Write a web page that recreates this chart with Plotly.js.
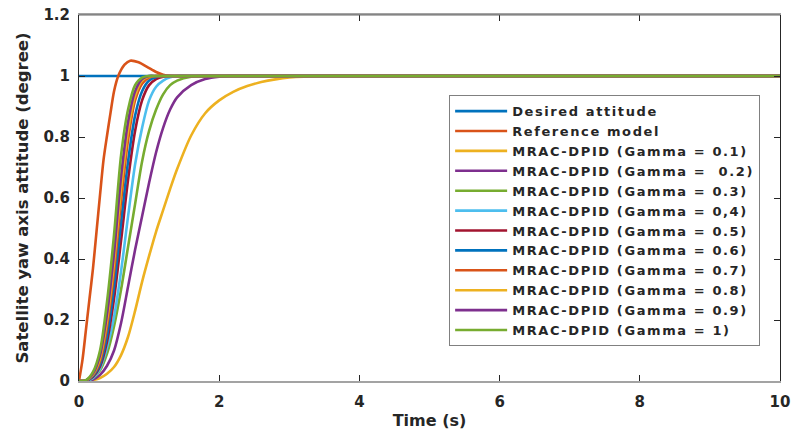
<!DOCTYPE html>
<html>
<head>
<meta charset="utf-8">
<script src="https://cdn.plot.ly/plotly-3.0.1.min.js"></script>
<style>
html,body{margin:0;padding:0;background:#fff;}
#chart{width:795px;height:436px;}
.legendtext{letter-spacing:1.6px;}
</style>
</head>
<body>
<div id="chart"></div>
<script>
// ---- data ----
const tDesired = [0, 10];
const vDesired = [1, 1];

const tRef = [0, 0.05, 0.1, 0.15, 0.2, 0.25, 0.3, 0.35, 0.4, 0.45, 0.5, 0.56, 0.65, 0.73, 0.85, 0.97, 1.1, 1.2, 1.3, 1.5, 2, 10];
const vRef = [0, 0.07, 0.17, 0.27, 0.37, 0.49, 0.61, 0.725, 0.805, 0.88, 0.95, 1.0, 1.037, 1.05, 1.045, 1.03, 1.013, 1.004, 1.0, 0.999, 1, 1];

const tGrid = [0, 0.1, 0.2, 0.3, 0.4, 0.5, 0.6, 0.7, 0.8, 0.9, 1.0, 1.1, 1.2, 1.3, 1.4, 1.6, 1.8, 2.0, 2.2, 2.4, 2.6, 2.8, 3.0, 3.5, 4, 10];
const g01 = [0, 0, 0.003, 0.01, 0.024, 0.046, 0.085, 0.145, 0.23, 0.325, 0.41, 0.49, 0.56, 0.63, 0.695, 0.805, 0.878, 0.92, 0.948, 0.967, 0.98, 0.989, 0.995, 1, 1, 1];
const g02 = [0, 0, 0.005, 0.02, 0.05, 0.1, 0.19, 0.31, 0.43, 0.54, 0.65, 0.75, 0.83, 0.89, 0.93, 0.97, 0.99, 0.998, 1, 1, 1, 1, 1, 1, 1, 1];
const g03 = [0, 0, 0.01, 0.035, 0.09, 0.18, 0.30, 0.44, 0.58, 0.72, 0.82, 0.89, 0.94, 0.97, 0.985, 0.998, 1, 1, 1, 1, 1, 1, 1, 1, 1, 1];
const g04 = [0, 0, 0.01, 0.04, 0.11, 0.21, 0.36, 0.54, 0.71, 0.83, 0.92, 0.965, 0.985, 0.996, 1, 1, 1, 1, 1, 1, 1, 1, 1, 1, 1, 1];
const g05 = [0, 0.001, 0.014, 0.048, 0.13, 0.27, 0.46, 0.66, 0.82, 0.92, 0.97, 0.99, 0.998, 1, 1, 1, 1, 1, 1, 1, 1, 1, 1, 1, 1, 1];
const g06 = [0, 0.001, 0.017, 0.055, 0.15, 0.31, 0.52, 0.72, 0.87, 0.95, 0.985, 0.997, 1, 1, 1, 1, 1, 1, 1, 1, 1, 1, 1, 1, 1, 1];
const g07 = [0, 0.002, 0.02, 0.065, 0.18, 0.36, 0.59, 0.79, 0.92, 0.975, 0.995, 1, 1, 1, 1, 1, 1, 1, 1, 1, 1, 1, 1, 1, 1, 1];
const g08 = [0, 0.002, 0.022, 0.075, 0.2, 0.39, 0.63, 0.82, 0.935, 0.985, 0.998, 1, 1, 1, 1, 1, 1, 1, 1, 1, 1, 1, 1, 1, 1, 1];
const g09 = [0, 0.002, 0.025, 0.085, 0.22, 0.42, 0.67, 0.85, 0.95, 0.99, 1, 1, 1, 1, 1, 1, 1, 1, 1, 1, 1, 1, 1, 1, 1, 1];
const g10 = [0, 0.003, 0.03, 0.10, 0.26, 0.48, 0.74, 0.89, 0.97, 0.995, 1, 1, 1, 1, 1, 1, 1, 1, 1, 1, 1, 1, 1, 1, 1, 1];

const gammaSeries = [g01, g02, g03, g04, g05, g06, g07, g08, g09, g10];
const gammaNames = [
  'MRAC-DPID (Gamma = 0.1)',
  'MRAC-DPID (Gamma = \u00A00.2)',
  'MRAC-DPID (Gamma = 0.3)',
  'MRAC-DPID (Gamma = 0,4)',
  'MRAC-DPID (Gamma = 0.5)',
  'MRAC-DPID (Gamma = 0.6)',
  'MRAC-DPID (Gamma = 0.7)',
  'MRAC-DPID (Gamma = 0.8)',
  'MRAC-DPID (Gamma = 0.9)',
  'MRAC-DPID (Gamma = 1)'
];
const xTicks = [0, 2, 4, 6, 8, 10];
const yTicks = [0, 0.2, 0.4, 0.6, 0.8, 1, 1.2];

// ---- styles ----
const gammaColors = ['#EDB120', '#7E2F8E', '#77AC30', '#4DBEEE', '#A2142F', '#0072BD', '#D95319', '#EDB120', '#7E2F8E', '#77AC30'];
const FONT = '"DejaVu Sans", "Liberation Sans", Arial, sans-serif';
const INK = '#262626';
const LW = 2.6;

const traces = [
  {x: tDesired, y: vDesired, name: 'Desired attitude', mode: 'lines', line: {color: '#0072BD', width: LW}},
  {x: tRef, y: vRef, name: 'Reference model', mode: 'lines', line: {color: '#D95319', width: LW, shape: 'spline', smoothing: 0.8}}
];
gammaSeries.forEach((v, i) => {
  traces.push({x: tGrid, y: v, name: gammaNames[i], mode: 'lines',
    line: {color: gammaColors[i], width: LW, shape: 'spline', smoothing: 0.8}});
});

const axisCommon = {
  showgrid: false, zeroline: false, showline: true, linewidth: 1,
  mirror: 'ticks', ticks: 'inside', ticklen: 6, tickwidth: 1, tickcolor: INK,
  tickfont: {family: FONT, size: 15, color: INK, weight: 'bold'}
};

const layout = {
  width: 795, height: 436,
  margin: {l: 79, r: 15, t: 15, b: 55},
  paper_bgcolor: '#fff', plot_bgcolor: '#fff',
  font: {family: FONT, color: INK},
  showlegend: true,
  xaxis: Object.assign({}, axisCommon, {
    range: [0, 10], tickvals: xTicks, ticklabelstandoff: 6,
    linecolor: '#a3a3a3', linewidth: 1.6,
    title: {text: 'Time (s)', font: {family: FONT, size: 16, color: INK, weight: 'bold'}, standoff: 5}
  }),
  yaxis: Object.assign({}, axisCommon, {
    range: [0, 1.2], tickvals: yTicks, ticklabelstandoff: 5,
    linecolor: INK,
    title: {text: 'Satellite yaw axis attitude (degree)', font: {family: FONT, size: 16.5, color: INK, weight: 'bold'}, standoff: 10}
  }),
  shapes: [
    {type: 'line', xref: 'paper', yref: 'paper', x0: 0, x1: 1, y0: 1, y1: 1, line: {color: '#666666', width: 1.2}, layer: 'above'}
  ],
  legend: {
    x: 0.528, y: 0.781, xanchor: 'left', yanchor: 'top',
    bgcolor: '#fff', bordercolor: '#808080', borderwidth: 1,
    font: {family: FONT, size: 13, color: INK, weight: 'bold'},
    itemwidth: 52, tracegroupgap: 0
  }
};

Plotly.newPlot('chart', traces, layout, {staticPlot: true, displayModeBar: false});
</script>
</body>
</html>
